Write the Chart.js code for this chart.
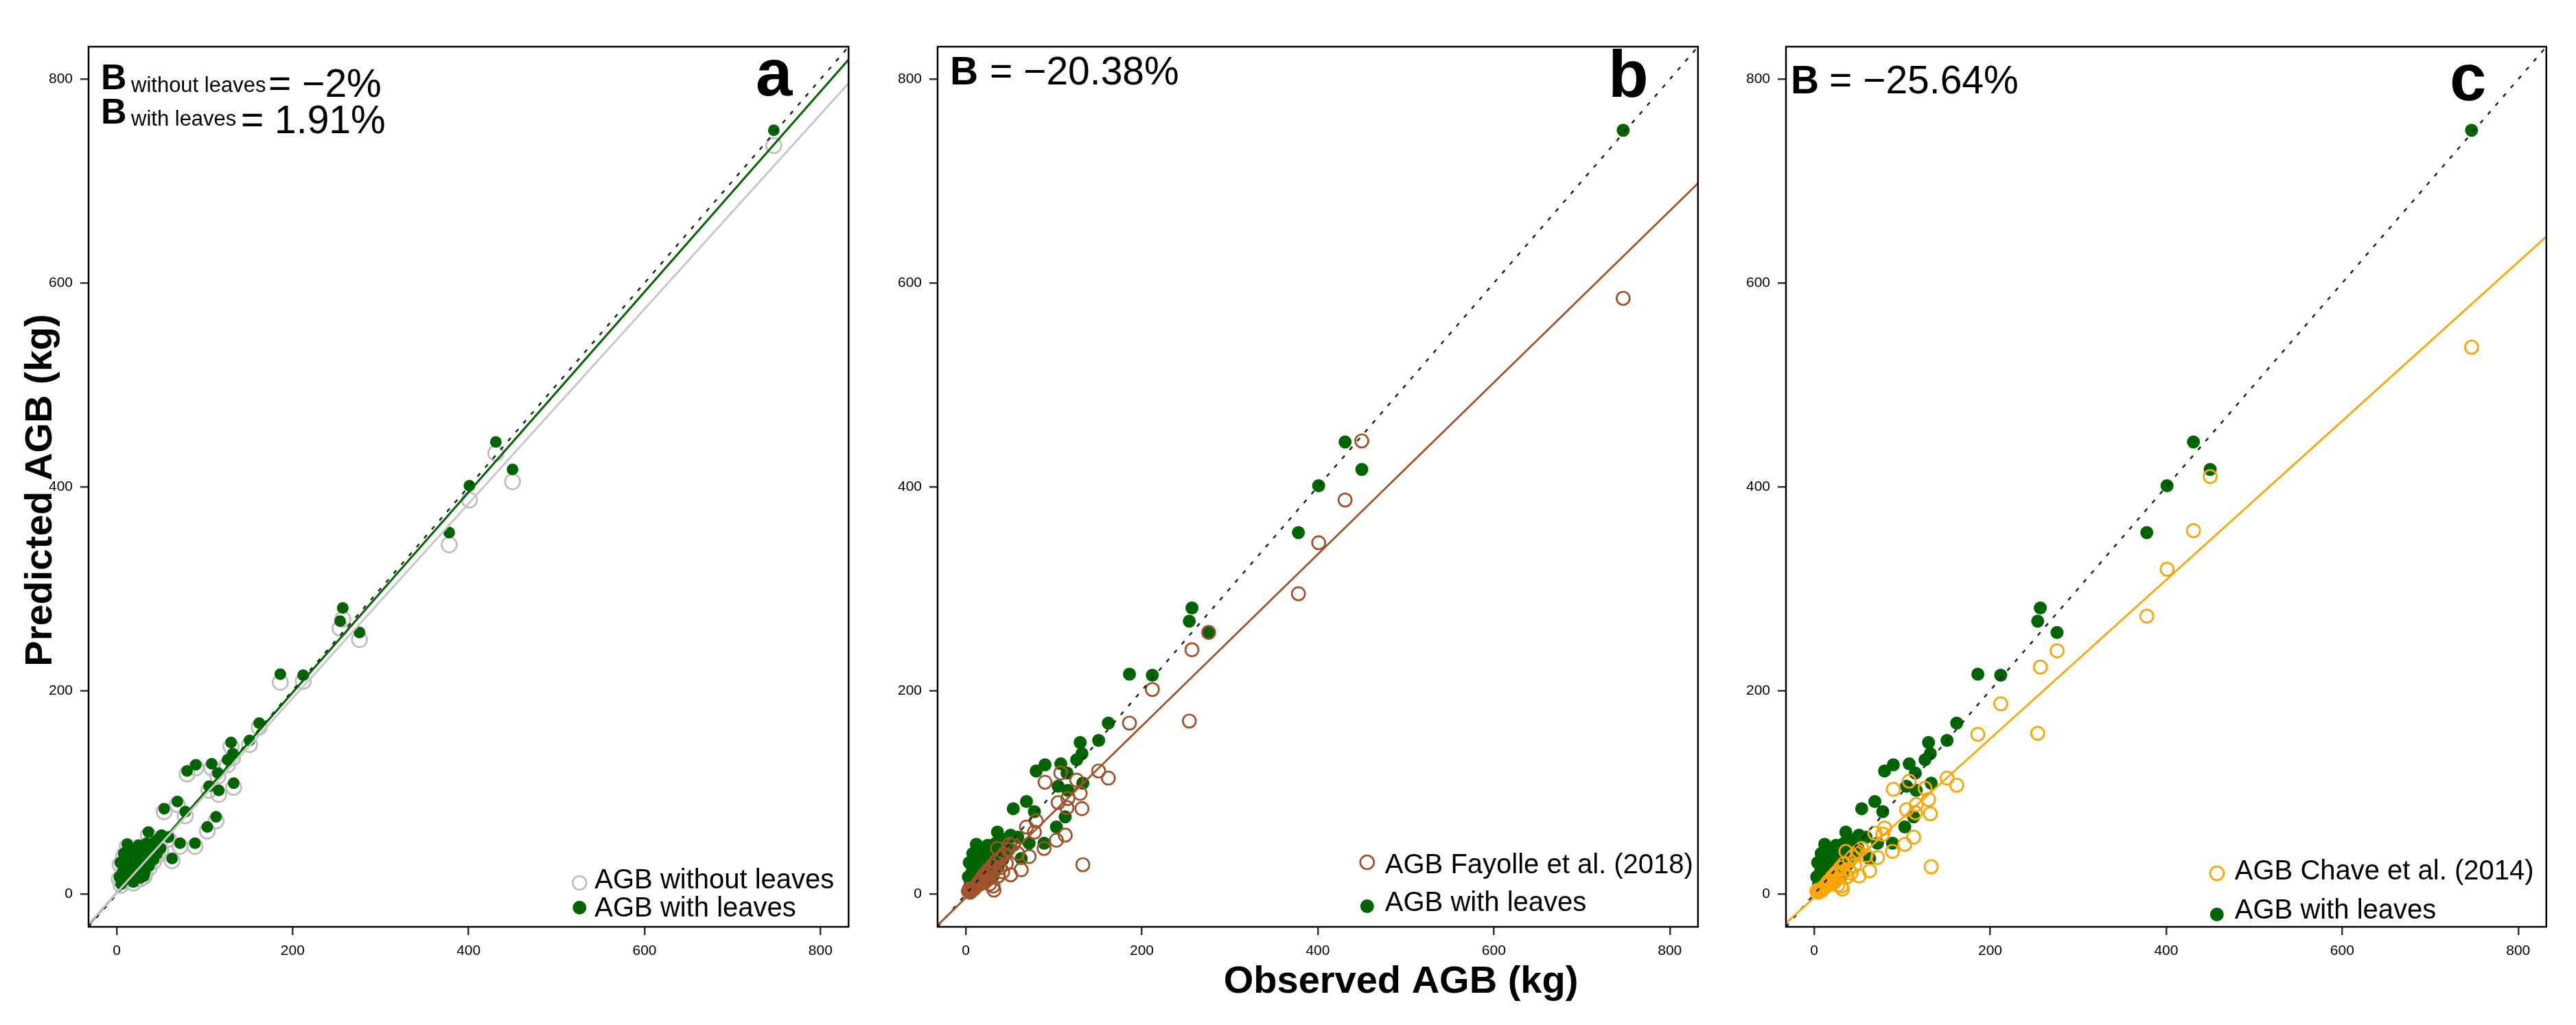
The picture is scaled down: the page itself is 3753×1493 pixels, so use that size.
<!DOCTYPE html>
<html lang="en">
<head>
    <meta charset="UTF-8">
    <title>Observed vs predicted AGB</title>
    <script src="https://cdn.jsdelivr.net/npm/chart.js"></script>
    <style>
        body { margin: 0; background: #fff; }
        #figure { position: relative; width: 3753px; height: 1493px; overflow: hidden; background: #fff; }
        .panel { position: absolute; top: 0; }
    </style>
</head>
<body>
<div id="figure">
    <div class="panel" style="left:0px"><canvas id="panelA" width="1250" height="1493"></canvas></div>
    <div class="panel" style="left:1236px"><canvas id="panelB" width="1250" height="1493"></canvas></div>
    <div class="panel" style="left:2472px"><canvas id="panelC" width="1250" height="1493"></canvas></div>
</div>
<script>
    // observed AGB (kg), one entry per tree
    const observed = [747, 450, 431, 401, 378, 276, 257, 254, 212, 186, 162, 151,
        130, 132, 126, 133, 108, 105, 115, 113, 103, 116, 90, 80, 78, 89, 72, 69, 54, 59, 51, 63,
        3, 4, 8, 12, 16, 21, 25, 32, 36, 39, 5, 7, 9, 10, 11, 13, 14, 15, 17, 18,
        19, 20, 22, 23, 24, 26, 27, 28, 29, 30, 31, 33, 34, 37, 40, 42, 44, 46, 48, 50];

    // predicted AGB (kg) for the same trees
    const withLeaves = [750, 417, 444, 401, 355, 257, 281, 268, 215, 216, 168, 151,
        149, 138, 132, 109, 128, 106, 119, 76, 66, 102, 127, 121, 81, 50, 50, 91, 84, 56, 58, 35,
        17, 31, 40, 49, 27, 36, 48, 22, 61, 40, 10, 22, 14, 30, 20, 37, 18, 44, 24, 33,
        12, 28, 45, 20, 30, 38, 16, 26, 34, 42, 18, 30, 50, 28, 46, 34, 52, 40, 55, 45];
    const withoutLeaves = [735, 405, 433, 387, 343, 250, 270, 261, 209, 208, 164, 147,
        145, 134, 127, 105, 124, 102, 116, 72, 62, 98, 124, 118, 77, 47, 47, 88, 81, 54, 55, 33,
        15, 29, 38, 47, 25, 34, 46, 20, 58, 38, 9, 20, 13, 28, 18, 35, 16, 42, 22, 31,
        11, 26, 42, 18, 28, 36, 15, 24, 32, 40, 17, 28, 47, 26, 44, 32, 49, 38, 52, 43];
    const fayolle2018 = [585, 445, 387, 345, 295, 257, 240, 170, 201, 168, 114, 121,
        99, 84, 112, 29, 119, 90, 85, 58, 53, 94, 110, 72, 61, 45, 37, 66, 49, 40, 19, 24,
        3, 5, 6, 8, 10, 12, 16, 4, 45, 26, 2, 4, 5, 6, 7, 9, 11, 12, 14, 15,
        16, 18, 20, 13, 22, 24, 10, 25, 20, 28, 8, 24, 32, 18, 36, 22, 40, 30, 44, 49];
    const chave2014 = [537, 410, 357, 319, 273, 239, 223, 158, 187, 157, 107, 114,
        93, 79, 104, 27, 111, 83, 80, 56, 49, 88, 103, 65, 59, 42, 36, 60, 45, 38, 18, 23,
        3, 4, 5, 7, 9, 11, 14, 5, 42, 24, 2, 4, 4, 6, 7, 8, 10, 11, 13, 14,
        14, 16, 18, 12, 20, 22, 9, 23, 19, 26, 8, 22, 30, 17, 33, 21, 37, 28, 40, 42];

    // fitted lines: [slope, intercept]
    const fitWithLeaves = [0.983, 1.5];
    const fitWithoutLeaves = [0.955, 1.5];
    const fitFayolle = [0.843, -3.5];
    const fitChave = [0.78, -3.3];
    const oneToOne = [1, 0];

    const axisTicks = [0, 200, 400, 600, 800];
    const axisRange = [-32, 832];

    const GREEN = '#006400';
    const GREY = '#bebebe';
    const BROWN = '#a0522d';
    const ORANGE = '#ffa500';
    const FAMILY = "'Liberation Sans', Arial, sans-serif";

    Chart.defaults.font.family = FAMILY;
    Chart.defaults.color = '#000';

    function points(ys) {
        return observed.map((x, i) => ({ x: x, y: ys[i] }));
    }

    function fitLine(coef) {
        return axisRange.map(x => ({ x: x, y: coef[0] * x + coef[1] }));
    }

    function ringSet(label, ys, color, order, radius) {
        return {
            label: label, data: points(ys), order: order, showLine: false,
            pointStyle: 'circle', pointRadius: radius, pointBorderWidth: 2.7,
            pointBorderColor: color, pointBackgroundColor: 'rgba(0,0,0,0)',
            borderColor: color, backgroundColor: 'rgba(0,0,0,0)'
        };
    }

    function dotSet(label, ys, order, radius) {
        return {
            label: label, data: points(ys), order: order, showLine: false,
            pointStyle: 'circle', pointRadius: radius, pointBorderWidth: 0,
            pointBorderColor: GREEN, pointBackgroundColor: GREEN,
            borderColor: GREEN, backgroundColor: GREEN
        };
    }

    function lineSet(coef, color, width, dash) {
        return {
            data: fitLine(coef), order: 0, showLine: true, pointRadius: 0,
            borderColor: color, borderWidth: width, borderDash: dash || []
        };
    }

    function axis(pos, size) {
        return {
            type: 'linear', position: pos, min: axisRange[0], max: axisRange[1],
            afterBuildTicks: s => { s.ticks = axisTicks.map(v => ({ value: v })); },
            afterFit: s => { if (pos === 'left') s.width = size; else s.height = size; },
            grid: { drawOnChartArea: false, drawTicks: true, tickLength: 12, lineWidth: 2.5, tickWidth: 2.5, tickColor: '#333' },
            border: { display: false },
            ticks: { color: '#000', font: { size: 21 }, padding: 11, maxRotation: 0, autoSkip: false }
        };
    }

    // frame, panel letters, bias text, legend and axis titles
    function decor(cfg) {
        return {
            id: 'decor',
            afterDraw(chart) {
                const ctx = chart.ctx, a = chart.chartArea;
                ctx.save();
                ctx.strokeStyle = '#000';
                ctx.lineWidth = 2.5;
                ctx.strokeRect(a.left, a.top, a.right - a.left, a.bottom - a.top);

                ctx.fillStyle = '#000';
                ctx.textAlign = 'left';
                ctx.textBaseline = 'alphabetic';
                cfg.texts.forEach(t => {
                    ctx.font = t.font;
                    ctx.fillText(t.text, a.left + t.dx, a.top + t.dy);
                });

                const lg = cfg.legend;
                lg.items.forEach((idx, row) => {
                    const ds = chart.data.datasets[idx];
                    const sx = a.right - lg.symbolDx, sy = a.bottom - lg.symbolDy[row];
                    ctx.beginPath();
                    ctx.arc(sx, sy, 10, 0, Math.PI * 2);
                    if (ds.pointBorderWidth > 0) {
                        ctx.lineWidth = 2.7;
                        ctx.strokeStyle = ds.pointBorderColor;
                        ctx.stroke();
                    } else {
                        ctx.fillStyle = ds.pointBackgroundColor;
                        ctx.fill();
                    }
                    ctx.fillStyle = '#000';
                    ctx.font = '40px ' + FAMILY;
                    ctx.fillText(ds.label, a.right - lg.textDx, a.bottom - lg.textDy[row]);
                });

                if (cfg.yTitle) {
                    ctx.save();
                    ctx.translate(a.left - 54, a.top + 646);
                    ctx.rotate(-Math.PI / 2);
                    ctx.textAlign = 'center';
                    ctx.font = 'bold 56px ' + FAMILY;
                    ctx.fillText(cfg.yTitle, 0, 0);
                    ctx.restore();
                }
                if (cfg.xTitle) {
                    ctx.textAlign = 'center';
                    ctx.font = 'bold 56px ' + FAMILY;
                    ctx.fillText(cfg.xTitle, a.left + 675, a.bottom + 96);
                }
                ctx.restore();
            }
        };
    }

    function makePanel(id, datasets, yWidth, cfg) {
        new Chart(document.getElementById(id), {
            type: 'scatter',
            data: { datasets: datasets },
            options: {
                responsive: false,
                animation: false,
                devicePixelRatio: 1,
                layout: { padding: { top: 68, right: 12, left: 0, bottom: 0 } },
                plugins: { legend: { display: false }, tooltip: { enabled: false } },
                scales: { x: axis('bottom', 143), y: axis('left', yWidth) }
            },
            plugins: [decor(cfg)]
        });
    }

    const big = 'bold 96px ' + FAMILY;

    makePanel('panelA', [
        ringSet('AGB without leaves', withoutLeaves, GREY, 3, 11),
        dotSet('AGB with leaves', withLeaves, 2, 8.5),
        lineSet(fitWithoutLeaves, '#c8c8c8', 3),
        lineSet(fitWithLeaves, GREEN, 3),
        lineSet(oneToOne, '#222', 2.5, [6, 11])
    ], 129, {
        texts: [
            { text: 'B', font: 'bold 52px ' + FAMILY, dx: 18, dy: 62 },
            { text: 'without leaves', font: '31px ' + FAMILY, dx: 62, dy: 66 },
            { text: '= \u22122%', font: '57px ' + FAMILY, dx: 262, dy: 73 },
            { text: 'B', font: 'bold 52px ' + FAMILY, dx: 18, dy: 112 },
            { text: 'with leaves', font: '31px ' + FAMILY, dx: 62, dy: 115 },
            { text: '= 1.91%', font: '57px ' + FAMILY, dx: 222, dy: 126 },
            { text: 'a', font: big, dx: 972, dy: 71 }
        ],
        legend: { items: [0, 1], symbolDx: 392, symbolDy: [64, 28], textDx: 370, textDy: [56, 15] },
        yTitle: 'Predicted AGB (kg)'
    });

    makePanel('panelB', [
        ringSet('AGB Fayolle et al. (2018)', fayolle2018, BROWN, 2, 9.5),
        dotSet('AGB with leaves', withLeaves, 3, 9.5),
        lineSet(fitFayolle, BROWN, 2.7),
        lineSet(oneToOne, '#222', 2.5, [6, 11])
    ], 130, {
        texts: [
            { text: 'B', font: 'bold 57px ' + FAMILY, dx: 18, dy: 55 },
            { text: '= \u221220.38%', font: '57px ' + FAMILY, dx: 76, dy: 55 },
            { text: 'b', font: big, dx: 977, dy: 73 }
        ],
        legend: { items: [0, 1], symbolDx: 482, symbolDy: [94, 30], textDx: 456, textDy: [78, 23] },
        xTitle: 'Observed AGB (kg)'
    });

    makePanel('panelC', [
        ringSet('AGB Chave et al. (2014)', chave2014, ORANGE, 2, 9.5),
        dotSet('AGB with leaves', withLeaves, 3, 9.5),
        lineSet(fitChave, ORANGE, 2.7),
        lineSet(oneToOne, '#222', 2.5, [6, 11])
    ], 130, {
        texts: [
            { text: 'B', font: 'bold 57px ' + FAMILY, dx: 7, dy: 68 },
            { text: '= \u221225.64%', font: '57px ' + FAMILY, dx: 63, dy: 68 },
            { text: 'c', font: big, dx: 967, dy: 78 }
        ],
        legend: { items: [0, 1], symbolDx: 480, symbolDy: [78, 18], textDx: 454, textDy: [69, 12] }
    });
</script>
</body>
</html>
